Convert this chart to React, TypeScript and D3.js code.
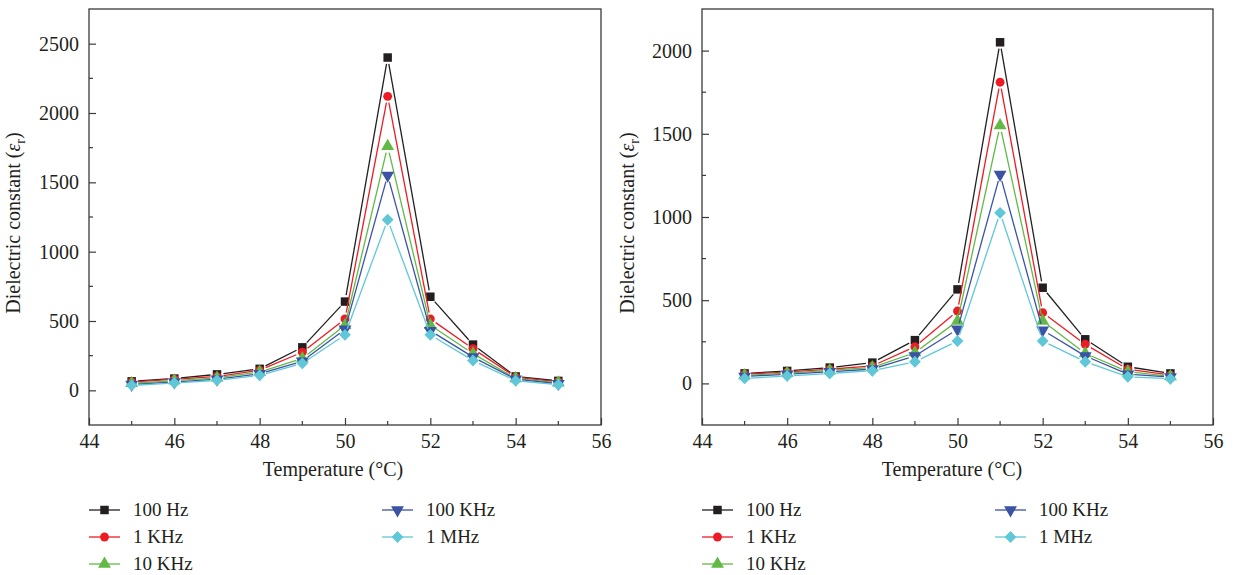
import React, { useEffect, useRef } from 'react';
import * as d3 from 'd3';

// temperatures (°C)
const temps = [45, 46, 47, 48, 49, 50, 51, 52, 53, 54, 55];
const seriesNames = ['100 Hz', '1 KHz', '10 KHz', '100 KHz', '1 MHz'];
const seriesColors = ['#231f20', '#ed1c24', '#62b946', '#3a53a4', '#5fc7d8'];
const seriesSymbols = ['square', 'circle', 'triUp', 'triDown', 'diamond'];

// left panel
const leftHz100 = [65, 85, 115, 155, 310, 640, 2400, 675, 330, 100, 68];
const leftKHz1 = [60, 80, 100, 145, 275, 515, 2120, 515, 300, 95, 62];
const leftKHz10 = [50, 70, 90, 132, 230, 470, 1760, 470, 265, 85, 55];
const leftKHz100 = [42, 60, 80, 120, 210, 440, 1550, 430, 240, 80, 48];
const leftMHz1 = [36, 53, 72, 108, 195, 400, 1230, 400, 215, 70, 40];

// right panel
const rightHz100 = [60, 75, 95, 125, 260, 565, 2050, 575, 265, 100, 60];
const rightKHz1 = [55, 68, 85, 105, 220, 435, 1810, 425, 235, 85, 50];
const rightKHz10 = [48, 62, 78, 96, 185, 375, 1550, 375, 180, 70, 42];
const rightKHz100 = [42, 55, 70, 86, 165, 325, 1255, 320, 165, 55, 38];
const rightMHz1 = [30, 45, 60, 76, 130, 255, 1025, 255, 130, 40, 28];

const xTicks = [44, 46, 48, 50, 52, 54, 56];
const xMinor = [45, 47, 49, 51, 53, 55];
const leftYTicks = [0, 500, 1000, 1500, 2000, 2500];
const rightYTicks = [0, 500, 1000, 1500, 2000];

const FONT = "'Liberation Serif', 'DejaVu Serif', serif";
const INK = '#231f20';

const symbolPath = (kind: string) => {
  if (kind === 'square') return d3.symbol(d3.symbolSquare, 72)();
  if (kind === 'circle') return d3.symbol(d3.symbolCircle, 62)();
  if (kind === 'diamond') return d3.symbol(d3.symbolSquare, 70)();
  return d3.symbol(d3.symbolTriangle, 72)();
};
const symbolRotate = (kind: string) => (kind === 'triDown' ? 180 : kind === 'diamond' ? 45 : 0);

const App = () => {
  const ref = useRef<SVGSVGElement | null>(null);

  useEffect(() => {
    const svg = d3.select(ref.current);
    svg.selectAll('*').remove();

    const drawPanel = (left: number, right: number, yMax: number, yTicks: number[], data: number[][], titleX: number, xTitleX: number) => {
      const top = 9;
      const bottom = 425;
      const x = d3.scaleLinear().domain([44, 56]).range([left, right]);
      const y = d3.scaleLinear().domain([-250, yMax]).range([bottom, top]);
      const g = svg.append('g');

      // frame
      g.append('rect')
        .attr('x', left).attr('y', top)
        .attr('width', right - left).attr('height', bottom - top)
        .attr('fill', 'none').attr('stroke', '#3a3a3a').attr('stroke-width', 1.3);

      // y axis
      const yAxis = g.append('g')
        .attr('transform', `translate(${left},0)`)
        .call(d3.axisLeft(y).tickValues(yTicks).tickFormat(d3.format('d')).tickSize(-7).tickPadding(10));
      yAxis.select('.domain').remove();
      yAxis.selectAll('.tick line').attr('stroke', '#3a3a3a').attr('stroke-width', 1.2);
      yAxis.selectAll('text').attr('fill', INK).style('font-family', FONT).style('font-size', '20px');

      const yMinor = d3.range(250, yMax, 500);
      g.selectAll('.ymin').data(yMinor).enter().append('line')
        .attr('x1', left).attr('x2', left + 4)
        .attr('y1', d => y(d)).attr('y2', d => y(d))
        .attr('stroke', '#3a3a3a').attr('stroke-width', 1.2);

      // x axis
      const xAxis = g.append('g')
        .attr('transform', `translate(0,${bottom})`)
        .call(d3.axisBottom(x).tickValues(xTicks).tickFormat(d3.format('d')).tickSize(-7).tickPadding(9));
      xAxis.select('.domain').remove();
      xAxis.selectAll('.tick line').attr('stroke', '#3a3a3a').attr('stroke-width', 1.2);
      xAxis.selectAll('text').attr('fill', INK).style('font-family', FONT).style('font-size', '20px');

      g.selectAll('.xmin').data(xMinor).enter().append('line')
        .attr('x1', d => x(d)).attr('x2', d => x(d))
        .attr('y1', bottom).attr('y2', bottom - 4)
        .attr('stroke', '#3a3a3a').attr('stroke-width', 1.2);

      // titles
      g.append('text')
        .attr('x', xTitleX).attr('y', 476)
        .attr('text-anchor', 'middle')
        .attr('fill', INK).style('font-family', FONT).style('font-size', '20px')
        .text('Temperature (°C)');

      const yt = g.append('text')
        .attr('transform', `translate(${titleX},${(top + bottom) / 2 + 6}) rotate(-90)`)
        .attr('text-anchor', 'middle')
        .attr('fill', INK).style('font-family', FONT).style('font-size', '20px');
      yt.append('tspan').text('Dielectric constant (');
      yt.append('tspan').attr('font-style', 'italic').text('ε');
      yt.append('tspan').attr('dy', 5).style('font-size', '14px').text('r');
      yt.append('tspan').attr('dy', -5).text(')');

      // series: segments with gaps around markers, then markers
      const gap = 6.5;
      data.forEach((vals, si) => {
        const pts = vals.map((v, i) => [x(temps[i]), y(v)]);
        const color = seriesColors[si];
        const sg = g.append('g');
        d3.pairs(pts).forEach(([a, b]) => {
          const dx = b[0] - a[0];
          const dy = b[1] - a[1];
          const len = Math.hypot(dx, dy);
          if (len <= gap * 2) return;
          const ux = dx / len;
          const uy = dy / len;
          sg.append('line')
            .attr('x1', a[0] + ux * gap).attr('y1', a[1] + uy * gap)
            .attr('x2', b[0] - ux * gap).attr('y2', b[1] - uy * gap)
            .attr('stroke', color).attr('stroke-width', 1.3);
        });
        sg.selectAll('path').data(pts).enter().append('path')
          .attr('d', symbolPath(seriesSymbols[si]))
          .attr('transform', d => `translate(${d[0]},${d[1]}) rotate(${symbolRotate(seriesSymbols[si])})`)
          .attr('fill', color);
      });

      // legend
      const rowY = [510, 537, 564];
      seriesNames.forEach((name, si) => {
        const col = si < 3 ? 0 : 1;
        const row = si < 3 ? si : si - 3;
        const lx = left + col * 293;
        const ly = rowY[row];
        const lg = g.append('g').attr('transform', `translate(${lx},${ly})`);
        lg.append('line').attr('x1', 0).attr('x2', 31).attr('y1', 0).attr('y2', 0)
          .attr('stroke', seriesColors[si]).attr('stroke-width', 1.3);
        lg.append('path')
          .attr('d', symbolPath(seriesSymbols[si]))
          .attr('transform', `translate(15.5,0) rotate(${symbolRotate(seriesSymbols[si])})`)
          .attr('fill', seriesColors[si]);
        lg.append('text')
          .attr('x', 44).attr('y', 6)
          .attr('fill', INK).style('font-family', FONT).style('font-size', '19px')
          .text(name);
      });
    };

    drawPanel(89, 601, 2750, leftYTicks,
      [leftHz100, leftKHz1, leftKHz10, leftKHz100, leftMHz1], 20, 333);
    drawPanel(702, 1213, 2250, rightYTicks,
      [rightHz100, rightKHz1, rightKHz10, rightKHz100, rightMHz1], 634, 952);
  }, []);

  return (
    <div style={{ position: 'absolute', left: 0, top: 0 }}>
      <svg ref={ref} width={1235} height={575} style={{ background: '#fff', display: 'block' }} />
    </div>
  );
};

export default App;
